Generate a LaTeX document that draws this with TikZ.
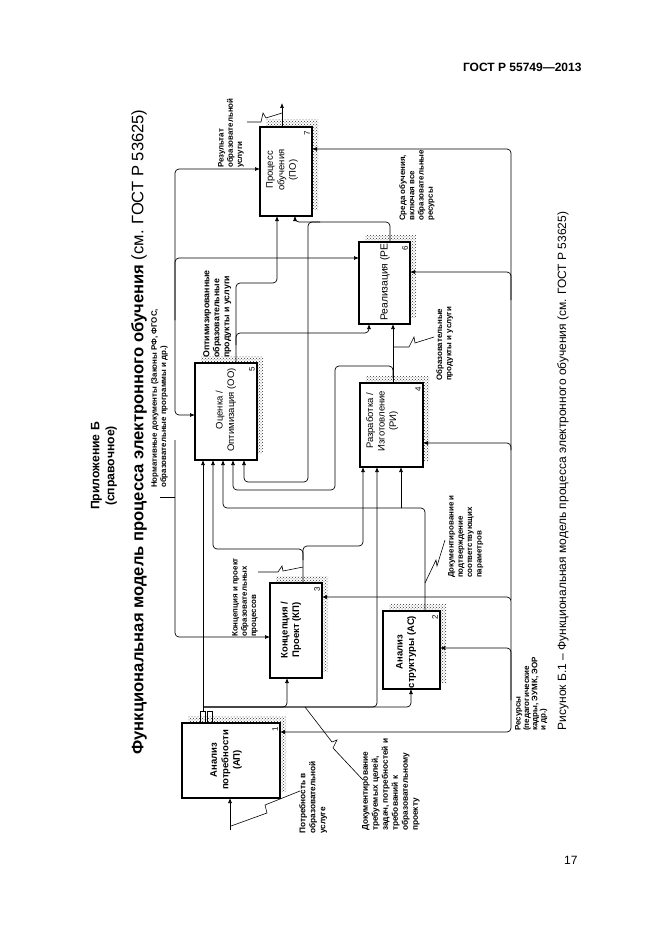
\documentclass[tikz,border=0pt]{standalone}
\usepackage{fontspec}
\setmainfont{Liberation Sans}
\usetikzlibrary{arrows.meta,patterns}
\newcommand\idefbox[5]{%
  \fill[shad] (#2-#4/2+6,#3-#5/2-7) rectangle (#2+#4/2+6,#3+#5/2-7);
  \node[box, minimum width=#4, minimum height=#5] (#1) at (#2,#3) {};
}
\begin{document}
\begin{tikzpicture}[x=1pt,y=-1pt,
  box/.style={draw, line width=1.2pt, fill=white, inner sep=0, outer sep=0},
  shad/.style={pattern=crosshatch dots, pattern color=black!80},
  conn/.style={line width=0.7pt, rounded corners=4pt},
  arr/.style={-{Latex[length=5pt,width=4pt]}},
  btxt/.style={rotate=90, align=center, inner sep=0, font=\fontsize{9.5}{11.5}\selectfont},
  bbtxt/.style={btxt, font=\bfseries\fontsize{9.5}{11.5}\selectfont},
  lbl/.style={rotate=90, align=left, inner sep=0, anchor=north west, font=\bfseries\fontsize{7.9}{9.3}\selectfont},
  num/.style={rotate=90, inner sep=0, font=\fontsize{8}{8}\selectfont},
]
\useasboundingbox[fill=white] (0,0) rectangle (661,936);

% header, page number, titles
\node[anchor=base east, font=\bfseries\fontsize{12}{14}\selectfont] (hdr) at (585,72) {ГОСТ Р 55749—2013};
\node[anchor=base east, font=\fontsize{12}{14}\selectfont] (pg) at (581,864) {17};
\node[rotate=90, align=center, font=\bfseries\fontsize{12.2}{15}\selectfont] (app) at (104,466) {Приложение Б\\(справочное)};
\node[rotate=90, font=\fontsize{16.6}{18}\selectfont] (title) at (139,432) {\textbf{Функциональная модель процесса электронного обучения} (см. ГОСТ Р 53625)};
\node[rotate=90, font=\fontsize{12}{13}\selectfont] (cap) at (563,471) {Рисунок Б.1 – Функциональная модель процесса электронного обучения (см. ГОСТ Р 53625)};

% boxes
\idefbox{b1}{231}{760.5}{98}{75}
\idefbox{b2}{411.5}{650}{57}{78}
\idefbox{b3}{296}{630.5}{52}{95}
\idefbox{b4}{391.5}{425}{63}{84}
\idefbox{b5}{226}{411.5}{62}{97}
\idefbox{b6}{384.5}{283}{51}{82}
\idefbox{b7}{286}{171.5}{52}{89}

\node[bbtxt] (t1) at (226,760) {Анализ\\потребности\\(АП)};
\node[bbtxt] (t2) at (406,652) {Анализ\\структуры (АС)};
\node[bbtxt] (t3) at (291,630) {Концепция /\\Проект (КП)};
\node[btxt] (t4) at (382,421) {Разработка /\\Изготовление\\(РИ)};
\node[btxt] (t5) at (226,410) {Оценка /\\Оптимизация (ОО)};
\begin{scope}
  \clip (b6.south west) rectangle (b6.north east);
  \node[btxt, anchor=west, font=\fontsize{10.3}{12}\selectfont] (t6) at (385,321) {Реализация (РЕ)};
\end{scope}
\node[btxt] (t7) at (282,170) {Процесс\\обучения\\(ПО)};

\foreach \b/\n in {b1/1,b2/2,b3/3,b4/4,b5/5,b6/6,b7/7}
  \node[num] (n\n) at ([shift={(-5,6)}]\b.north east) {\n};

% control bus (Нормативные документы)
\draw[conn,arr] (175,320) |- (b7.west |- 0,169);
\draw[conn,arr] (175,320) |- (b6.west |- 0,258);
\draw[conn,arr] (175,320) |- (b5.west |- 0,415);
\draw[conn,arr] (175,440) |- (b3.west |- 0,637);
\draw[line width=0.7pt] (160,497) -- (175,497);

% mechanism bus (Ресурсы)
\draw[conn,arr] (511,700) |- (b1.east |- 0,732);
\draw[conn,arr] (511,700) |- (b2.east |- 0,648);
\draw[conn,arr] (511,700) |- (b3.east |- 0,597);
\draw[conn,arr] (511,600) |- (b4.east |- 0,443);
\draw[conn,arr] (511,450) |- (b6.east |- 0,272);
\draw[conn,arr] (511,300) |- (b7.east |- 0,149);

% outputs of box 1
\draw[line width=0.7pt] (200,0 |- b1.north) -- (200,711) -- (205,711) -- (205,0 |- b1.north);
\draw[line width=0.7pt] (207,0 |- b1.north) -- (207,711) -- (212,711) -- (212,0 |- b1.north);
\draw[conn,arr] (203,711) -- (203,0 |- b5.south);
\draw[conn,arr] (203,707) -| (287,0 |- b3.south);
\draw[conn,arr] (203,707) -| (377,0 |- b4.south);
\draw[conn,arr] (203,707) -| (411,0 |- b2.south);
\draw[line width=0.6pt] (305,707) -- (332,742) -- (337,740) -- (333,748) -- (363,780);

% outputs of box 2
\draw[conn,arr] (425,0 |- b2.north) -- (425,508) -- (223,508) -- (223,0 |- b5.south);
\draw[conn,arr] (401,508) -- (401,0 |- b4.south);
\draw[line width=0.6pt] (425,583) -- (436,560) -- (437,566) -- (445,540);

% outputs of box 3
\draw[conn,arr] (303,0 |- b3.north) -- (303,549) -- (213,549) -- (213,0 |- b5.south);
\draw[conn,arr] (303,560) -- (303,546) -- (363,546) -- (363,0 |- b4.south);
\draw[line width=0.6pt] (258,572) -- (278,572) -- (282,566) -- (283,571) -- (303,567);

% outputs of box 4
\draw[conn,arr] (393,0 |- b4.north) -- (393,0 |- b6.south);
\draw[conn,arr] (393,378) -- (393,366) -- (335,366) -- (335,490) -- (233,490) -- (233,0 |- b5.south);
\draw[line width=0.6pt] (393,347) -- (409,347) -- (414,337) -- (415,343) -- (434,337);

% outputs of box 5
\draw[conn,arr] (236,0 |- b5.north) -- (236,283) -- (277,283) -- (277,0 |- b7.south);
\draw[conn,arr] (236,345) -- (236,333) -- (369,333) -- (369,0 |- b6.south);

% outputs of box 6
\draw[conn,arr] (390,0 |- b6.north) -- (390,222) -- (295,222) -- (295,0 |- b7.south);
\draw[conn,arr] (320,222) -- (308,222) -- (308,482) -- (244,482) -- (244,0 |- b5.south);

% output of box 7
\coordinate (o7) at (282,103);
\draw[conn,arr] (282,0 |- b7.north) -- (o7);
\draw[line width=0.6pt] (247,122) -- (261,122) -- (263,113) -- (266,118) -- (282,113);

% input of box 1
\coordinate (i1) at (230,830);
\draw[conn,arr] (i1) -- (230,0 |- b1.south);
\draw[line width=0.6pt] (231,826) -- (267,813) -- (265,805) -- (300,791);

% labels
\node[lbl] (lN) at (151,488) {Нормативные документы (Законы РФ, ФГОС,\\образовательные программы и др.)};
\node[lbl] (lR7) at (218,168) {Результат\\образовательной\\услуги};
\node[lbl, font=\bfseries\fontsize{8.8}{10}\selectfont] (lO5) at (203,358) {Оптимизированные\\образовательные\\продукты и услуги};
\node[lbl] (lS6) at (399,221) {Среда обучения,\\включая все\\образовательные\\ресурсы};
\node[lbl] (lP4) at (436,381) {Образовательные\\продукты и услуги};
\node[lbl] (lK3) at (232,637) {Концепция и проект\\образовательных\\процессов};
\node[lbl] (lD2) at (448,578) {Документирование и\\подтверждение\\соответствующих\\параметров};
\node[lbl, font=\bfseries\fontsize{8.3}{10}\selectfont] (lD1) at (362,831) {Документирование\\требуемых целей,\\задач, потребностей и\\требований к\\образовательному\\проекту};
\node[lbl, font=\bfseries\fontsize{8.3}{10}\selectfont] (lP1) at (299,834) {Потребность в\\образовательной\\услуге};
\node[lbl, font=\bfseries\fontsize{8}{8.3}\selectfont] (lRes) at (515,731) {Ресурсы\\(педагогические\\кадры, ЭУМК, ЭОР\\и др.)};
\end{tikzpicture}
\end{document}
